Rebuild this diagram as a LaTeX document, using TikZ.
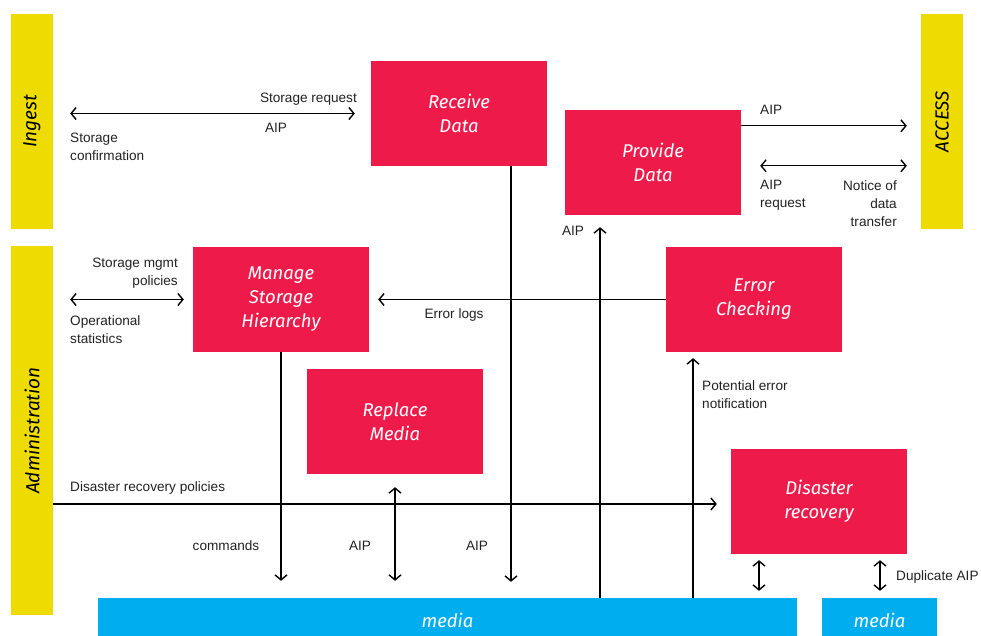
\documentclass[tikz,border=0pt]{standalone}
\usepackage{fontspec}
\setmainfont{Liberation Sans}
\newfontfamily\boxfont{Fira Sans}
\usetikzlibrary{arrows.meta,calc}
\definecolor{cred}{HTML}{EE1B4A}
\definecolor{cyel}{HTML}{EEDC00}
\definecolor{cblue}{HTML}{00AEEF}
\definecolor{ctxt}{HTML}{222222}
\begin{document}
\begin{tikzpicture}[x=1pt,y=-1pt,
  box/.style={fill=cred, draw=none, inner sep=0pt, minimum width=176pt, minimum height=105pt,
    text=white, align=center, font=\boxfont\itshape\fontsize{18.5}{24}\selectfont},
  bar/.style={fill=cyel, draw=none, inner sep=0pt, minimum width=42pt},
  bartext/.style={rotate=90, font=\boxfont\itshape\fontsize{19}{22}\selectfont, text=black},
  mediabar/.style={fill=cblue, draw=none, inner sep=0pt, minimum height=38pt},
  lbl/.style={font=\fontsize{13.6}{18}\selectfont, text=ctxt, inner sep=0pt},
  arr/.style={line width=1.4pt, draw=black, -{Straight Barb[length=5pt,width=12pt,line width=1.4pt]}},
  darr/.style={line width=1.4pt, draw=black, {Straight Barb[length=5pt,width=12pt,line width=1.4pt]}-{Straight Barb[length=5pt,width=12pt,line width=1.4pt]}}
]
\useasboundingbox (0,0) rectangle (981,636);
% bars
\node[bar, minimum height=215pt] (ingest) at (32,121.5) {};
\node[bartext] at (ingest.center) {Ingest};
\node[bar, minimum height=369pt] (admin) at (32,430.5) {};
\node[bartext] at (admin.center) {Administration};
\node[bar, minimum height=215pt] (access) at (942,121.5) {};
\node[bartext] at (access.center) {ACCESS};
% media
\node[mediabar, minimum width=699pt] (media) at (447.5,617) {};
\node[font=\boxfont\itshape\fontsize{18.5}{22}\selectfont, text=white] at (447.5,620) {media};
\node[mediabar, minimum width=115pt] (media2) at (879.5,617) {};
\node[font=\boxfont\itshape\fontsize{18.5}{22}\selectfont, text=white] at (879.5,620) {media};
% boxes
\node[box] (recv) at (459,113.5) {Receive\\Data};
\node[box] (prov) at (653,162.5) {Provide\\Data};
\node[box] (msh) at (281,299.5) {Manage\\Storage\\Hierarchy};
\node[box] (err) at (754,299.5) {Error\\Checking};
\node[box] (rep) at (395,421.5) {Replace\\Media};
\node[box] (dr) at (819,501.5) {Disaster\\recovery};
% connectors
\draw[darr, shorten <=17pt, shorten >=16pt] (ingest.east |- recv.west) -- (recv.west);
\node[lbl, anchor=base east] at (357,103) {Storage request};
\node[lbl, anchor=base] at (276,133) {AIP};
\node[lbl, anchor=north west, align=left] at (70,133) {Storage\\confirmation};

\coordinate (rd) at ($(recv.south)+(52,0)$);
\draw[arr, shorten >=16pt] (rd) -- (rd |- media.north);
\node[lbl, anchor=base] at (477,550) {AIP};

\coordinate (pa) at ($(prov.north east)+(0,16)$);
\draw[arr, shorten >=14pt] (pa) -- (access.west |- pa);
\node[lbl, anchor=base west] at (760,115) {AIP};
\coordinate (pr) at ($(prov.north east)+(19,56)$);
\draw[darr, shorten >=14pt] (pr) -- (access.west |- pr);
\node[lbl, anchor=north west, align=left] at (760,180) {AIP\\request};
\node[lbl, anchor=north east, align=right] at (897,180) {Notice of\\data\\transfer};

\coordinate (pu) at (600,0);
\draw[arr, shorten >=12pt] (pu |- media.north) -- (pu |- prov.south);
\node[lbl, anchor=base] at (573,235) {AIP};

\draw[arr, shorten >=9pt] (err.west) -- (msh.east);
\node[lbl, anchor=base] at (454,318) {Error logs};

\draw[darr, shorten <=17pt, shorten >=9pt] (admin.east |- msh.west) -- (msh.west);
\node[lbl, anchor=north east, align=right] at (178,258) {Storage mgmt\\policies};
\node[lbl, anchor=north west, align=left] at (70,315) {Operational\\statistics};

\draw[arr, shorten >=17pt] (msh.south) -- (msh.south |- media.north);
\node[lbl, anchor=base] at (226,550) {commands};

\draw[darr, shorten <=13pt, shorten >=17pt] (rep.south) -- (rep.south |- media.north);
\node[lbl, anchor=base] at (360,550) {AIP};

\coordinate (pe) at (693,0);
\draw[arr, shorten >=6pt] (pe |- media.north) -- (pe |- err.south);
\node[lbl, anchor=north west, align=left] at (702,380) {Potential error\\notification};

\coordinate (dp) at (0,504);
\draw[arr, shorten >=14pt] (admin.east |- dp) -- (dr.west |- dp);
\node[lbl, anchor=base west] at (70,491) {Disaster recovery policies};

\coordinate (d1) at (759,0);
\draw[darr, shorten <=6pt, shorten >=7pt] (d1 |- dr.south) -- (d1 |- media.north);
\coordinate (d2) at (880,0);
\draw[darr, shorten <=6pt, shorten >=7pt] (d2 |- dr.south) -- (d2 |- media2.north);
\node[lbl, anchor=base west] at (896,580) {Duplicate AIP};
\end{tikzpicture}
\end{document}
